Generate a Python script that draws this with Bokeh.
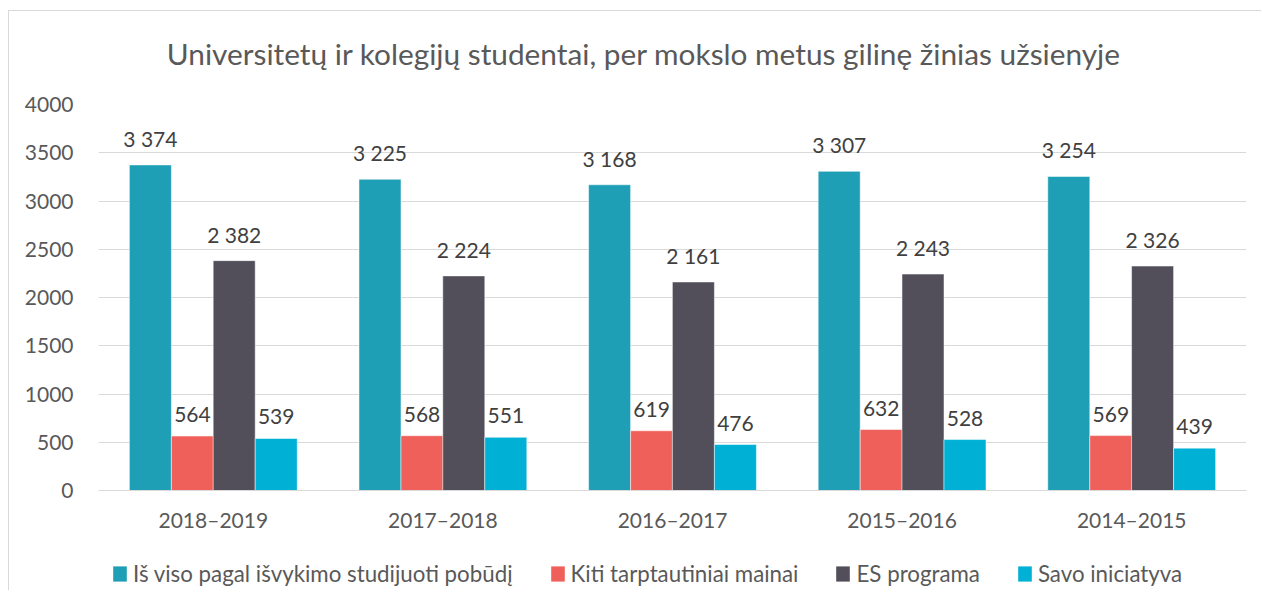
from bokeh.plotting import figure
from bokeh.layouts import column
from bokeh.models import (ColumnDataSource, FactorRange, Range1d, SingleIntervalTicker,
                          Legend, LegendItem, LabelSet, Label)
from bokeh.core.properties import value
from bokeh.transform import dodge
from bokeh.embed import file_html
from bokeh.resources import INLINE

categories = ["2018–2019", "2017–2018", "2016–2017", "2015–2016", "2014–2015"]
series_names = ["Iš viso pagal išvykimo studijuoti pobūdį", "Kiti tarptautiniai mainai",
                "ES programa", "Savo iniciatyva"]
total = [3374, 3225, 3168, 3307, 3254]
kiti = [564, 568, 619, 632, 569]
es = [2382, 2224, 2161, 2243, 2326]
savo = [539, 551, 476, 528, 439]
title_text = "Universitetų ir kolegijų studentai, per mokslo metus gilinę žinias užsienyje"

colors = ["#1F9FB5", "#F0605A", "#524F5B", "#00B0D5"]
offsets = [-0.274, -0.091, 0.091, 0.274]
FONT = "Lato"

def fmt(v):
    return f"{v:,}".replace(",", " ")

src = ColumnDataSource(dict(
    cat=categories,
    s0=total, s1=kiti, s2=es, s3=savo,
    l0=[fmt(v) for v in total], l1=[fmt(v) for v in kiti],
    l2=[fmt(v) for v in es], l3=[fmt(v) for v in savo],
))

def strip(height):
    f = figure(width=1252, height=height, output_backend="svg", toolbar_location=None,
               x_range=Range1d(0, 1), y_range=Range1d(0, 1),
               x_axis_location=None, y_axis_location=None,
               min_border=0, min_border_left=0, min_border_right=0,
               min_border_top=0, min_border_bottom=0)
    f.grid.visible = False
    f.outline_line_color = None
    f.background_fill_color = "white"
    f.border_fill_color = "white"
    return f

# title strip
top = strip(78)
top.add_layout(Label(x=0.4752, y=0.4615, text=title_text, text_align="center",
                     text_baseline="middle", text_font=FONT, text_font_size="29.8px",
                     text_color="#595959"))

# main chart
p = figure(x_range=FactorRange(*categories), y_range=Range1d(0, 4000),
           frame_width=1148, frame_height=386, output_backend="svg", toolbar_location=None,
           min_border_left=89, min_border_right=15, min_border_top=15, min_border_bottom=60)
p.outline_line_color = None
p.background_fill_color = "white"
p.border_fill_color = "white"

for i in range(4):
    p.vbar(x=dodge("cat", offsets[i], range=p.x_range), top=f"s{i}", width=0.183,
           source=src, fill_color=colors[i], line_color="white", line_width=0.5)
    lbl = LabelSet(x=dodge("cat", offsets[i], range=p.x_range), y=f"s{i}", text=f"l{i}",
                   source=src, text_align="center", text_baseline="bottom", y_offset=14,
                   text_font=value(FONT), text_font_size="21px", text_color="#404040")
    p.add_layout(lbl)

p.yaxis.ticker = SingleIntervalTicker(interval=500)
p.yaxis.axis_line_color = None
p.yaxis.major_tick_line_color = None
p.yaxis.minor_tick_line_color = None
p.yaxis.major_label_standoff = 19
p.yaxis.major_label_text_font = FONT
p.yaxis.major_label_text_font_size = "21px"
p.yaxis.major_label_text_color = "#595959"

p.xaxis.axis_line_color = "#d9d9d9"
p.xaxis.major_tick_line_color = None
p.xaxis.minor_tick_line_color = None
p.xaxis.major_label_standoff = 10
p.xaxis.major_label_text_font = FONT
p.xaxis.major_label_text_font_size = "21px"
p.xaxis.major_label_text_color = "#595959"

p.xgrid.grid_line_color = None
p.ygrid.grid_line_color = "#d9d9d9"
p.ygrid.grid_line_width = 1

# legend strip: hidden renderers carry the series styles
leg = strip(40)
leg_renderers = [leg.vbar(x=f"s{i}", top=f"s{i}", width=0.1, source=src,
                          fill_color=colors[i], line_color=None, visible=False)
                 for i in range(4)]
legend = Legend(items=[LegendItem(label=series_names[i], renderers=[leg_renderers[i]]) for i in range(4)],
                location=(13, 3), orientation="horizontal", spacing=36, padding=0, margin=0,
                glyph_width=17, glyph_height=19, label_standoff=5,
                label_text_font=FONT, label_text_font_size="22.3px", label_text_color="#595959",
                inactive_fill_alpha=0, border_line_color=None, background_fill_alpha=0)
leg.add_layout(legend, "center")

layout = column(top, p, leg, spacing=0,
                styles={"margin-left": "8px", "margin-top": "10px",
                        "border-top": "1px solid #d9d9d9", "border-left": "1px solid #d9d9d9"})

open("out.html", "w").write(file_html(layout, INLINE))
